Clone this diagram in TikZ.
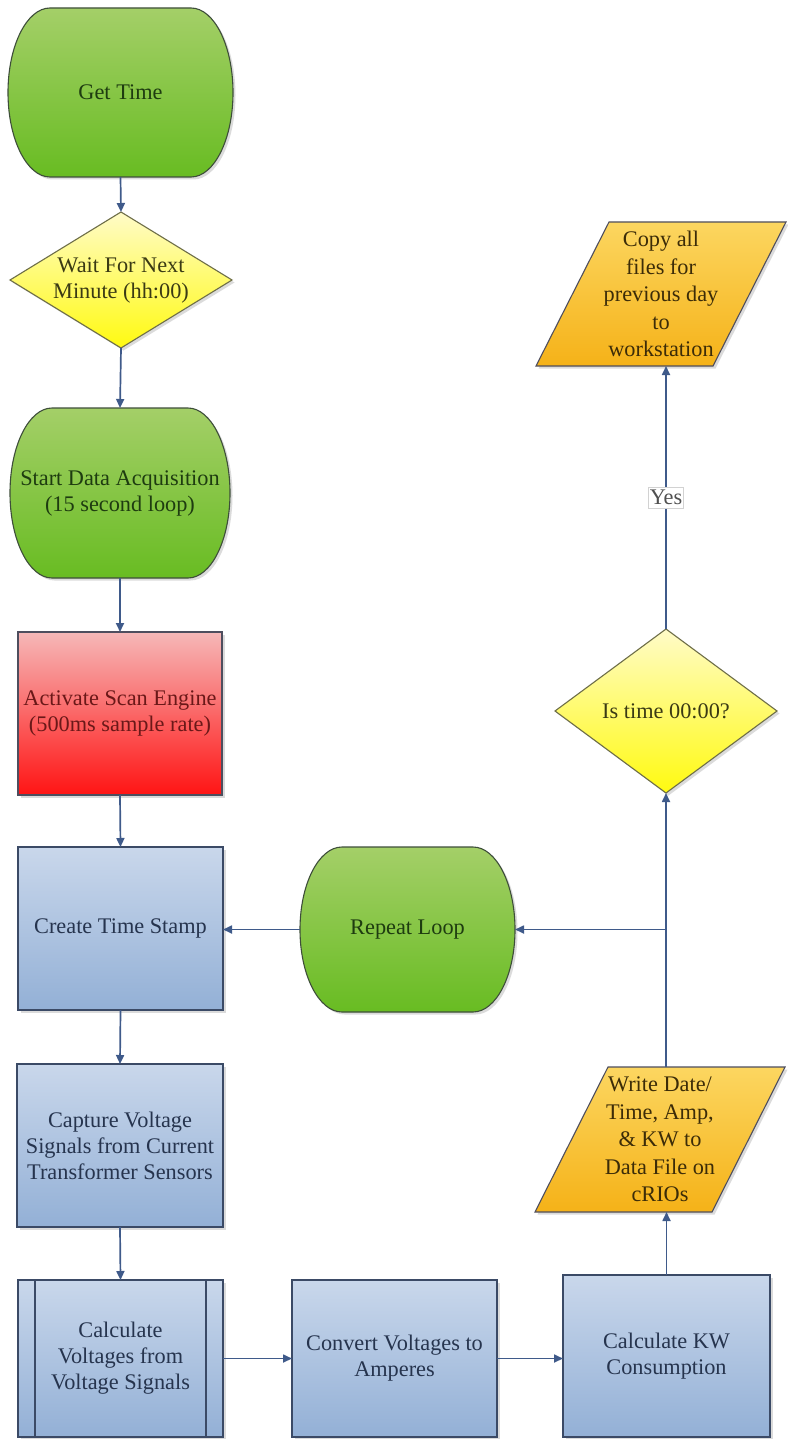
\documentclass[tikz,border=0pt]{standalone}
\usepackage{fontspec}
\setmainfont{Liberation Serif}
\usetikzlibrary{shapes.geometric,arrows.meta,shadows,backgrounds,calc}

\definecolor{grtop}{HTML}{A4CF68}
\definecolor{grbot}{HTML}{68BC22}
\definecolor{grbd}{HTML}{3E4E3A}
\definecolor{grtx}{HTML}{1E3C10}
\definecolor{yetop}{HTML}{FFFBC8}
\definecolor{yebot}{HTML}{FFFA10}
\definecolor{yebd}{HTML}{6E6E48}
\definecolor{yetx}{HTML}{3A3A14}
\definecolor{rdtop}{HTML}{F6B8B8}
\definecolor{rdbot}{HTML}{FF1414}
\definecolor{rdbd}{HTML}{4E4E5E}
\definecolor{rdtx}{HTML}{6A1818}
\definecolor{bltop}{HTML}{C9D7EB}
\definecolor{blbot}{HTML}{93B0D6}
\definecolor{blbd}{HTML}{3B4A66}
\definecolor{bltx}{HTML}{26344E}
\definecolor{ortop}{HTML}{FCD660}
\definecolor{orbot}{HTML}{F5B218}
\definecolor{orbd}{HTML}{4E4E5E}
\definecolor{ortx}{HTML}{3C2C08}
\definecolor{arrowc}{HTML}{3F5A8A}
\definecolor{yestx}{HTML}{505050}

\newcommand\stadiumshape[3]{%
  \path[#3] let \p1=(#1.north west), \p2=(#1.south east), \p3=(#1.center) in
    ({\x1+#2},\y1) -- ({\x2-#2},\y1)
    .. controls ({\x2-0.448*#2},\y1) and (\x2,{\y3+0.552*(\y1-\y3)}) .. (\x2,\y3)
    .. controls (\x2,{\y3-0.552*(\y1-\y3)}) and ({\x2-0.448*#2},\y2) .. ({\x2-#2},\y2)
    -- ({\x1+#2},\y2)
    .. controls ({\x1+0.448*#2},\y2) and (\x1,{\y3-0.552*(\y1-\y3)}) .. (\x1,\y3)
    .. controls (\x1,{\y3+0.552*(\y1-\y3)}) and ({\x1+0.448*#2},\y1) .. ({\x1+#2},\y1) -- cycle;}
\newcommand\paragshape[2]{%
  \path[#2] (#1.south west) -- ([xshift=-73pt]#1.south east) -- (#1.north east)
    -- ([xshift=73pt]#1.north west) -- cycle;}

\begin{document}
\begin{tikzpicture}[x=1pt,y=-1pt,
  txt/.style={font=\fontsize{22.3}{26}\selectfont, align=center, inner sep=0pt, outer sep=0pt},
  shd/.style={drop shadow={opacity=0.28, shadow xshift=2.5pt, shadow yshift=-2.5pt}},
  stadtxt/.style={txt, rectangle, text=grtx},
  stadfill/.style={draw=grbd, line width=1.1pt, top color=grtop, bottom color=grbot, shd},
  procbox/.style={txt, rectangle, draw=blbd, line width=1.1pt, top color=bltop, bottom color=blbot, text=bltx, shd},
  redbox/.style={txt, rectangle, draw=rdbd, line width=1.1pt, top color=rdtop, bottom color=rdbot, text=rdtx, shd},
  decbox/.style={txt, diamond, draw=yebd, line width=1.1pt, top color=yetop, bottom color=yebot, text=yetx, shd},
  paratxt/.style={txt, font=\fontsize{22.3}{27.5}\selectfont, rectangle, text=ortx},
  parafill/.style={draw=orbd, line width=1.1pt, top color=ortop, bottom color=orbot, shd},
  arr/.style={draw=arrowc, line width=1.7pt, -{Triangle[length=9pt,width=8pt]}},
  yesbox/.style={txt, fill=white, draw=gray!35, line width=0.6pt, text=yestx, inner xsep=1.5pt, inner ysep=3pt}
]
\useasboundingbox (0,0) rectangle (787,1439);

% nodes
\node[stadtxt, minimum width=225pt, minimum height=169pt] (gettime) at (120.5,92.5) {Get Time};
\node[decbox, aspect=1.63, minimum width=222pt, minimum height=136pt] (wait) at (121,280) {Wait For Next\\Minute (hh:00)};
\node[stadtxt, minimum width=220pt, minimum height=170pt] (start) at (120,493) {Start Data Acquisition\\(15 second loop)};
\node[redbox, minimum width=204pt, minimum height=163pt] (activate) at (120,713.5) {Activate Scan Engine\\(500ms sample rate)};
\node[procbox, minimum width=205pt, minimum height=163pt] (create) at (120.5,928.5) {Create Time Stamp};
\node[stadtxt, minimum width=215pt, minimum height=165pt] (repeat) at (407.5,929.5) {Repeat Loop};
\node[procbox, minimum width=206pt, minimum height=163pt] (capture) at (120,1145.5) {Capture Voltage\\Signals from Current\\Transformer Sensors};
\node[procbox, minimum width=205pt, minimum height=157pt] (calc) at (120.5,1358.5) {Calculate\\Voltages from\\Voltage Signals};
\draw[draw=blbd, line width=1.1pt] ([xshift=17pt]calc.north west) -- ([xshift=17pt]calc.south west)
  ([xshift=-17pt]calc.north east) -- ([xshift=-17pt]calc.south east);
\node[procbox, minimum width=205pt, minimum height=157pt] (convert) at (394.5,1358.5) {Convert Voltages to\\Amperes};
\node[procbox, minimum width=207pt, minimum height=162pt] (kw) at (666.5,1356) {Calculate KW\\Consumption};
\node[paratxt, minimum width=250pt, minimum height=145pt] (write) at (660,1139.5) {Write Date/\\Time, Amp,\\\& KW to\\Data File on\\cRIOs};
\node[decbox, aspect=1.35, minimum width=222pt, minimum height=164pt] (istime) at (666,711) {Is time 00:00?};
\node[paratxt, minimum width=250pt, minimum height=144pt] (copy) at (661,294) {Copy all\\files for\\previous day\\to\\workstation};

% shapes behind the text nodes
\begin{scope}[on background layer]
  \fill[white] (0,0) rectangle (787,1439);
  \stadiumshape{gettime}{42pt}{stadfill}
  \stadiumshape{start}{42pt}{stadfill}
  \stadiumshape{repeat}{42pt}{stadfill}
  \paragshape{write}{parafill}
  \paragshape{copy}{parafill}
\end{scope}

% connectors
\draw[arr] (gettime.south) -- (wait.north);
\draw[arr] (wait.south) -- (start.north);
\draw[arr] (start.south) -- (activate.north);
\draw[arr] (activate.south) -- (create.north);
\draw[arr] (create.south) -- (capture.north);
\draw[arr] (capture.south) -- (calc.north);
\draw[arr] (calc.east) -- (convert.west);
\draw[arr] (convert.east) -- (convert.east -| kw.west);
\draw[arr] (kw.north) -- (kw.north |- write.south);
\draw[arr] (istime.south |- write.north) -- (istime.south);
\coordinate (junc) at (istime.south |- repeat.east);
\draw[arr] (junc) -- (repeat.east);
\draw[arr] (repeat.west) -- (repeat.west -| create.east);
\draw[arr] (istime.north) -- node[yesbox] {Yes} (istime.north |- copy.south);
\end{tikzpicture}
\end{document}
